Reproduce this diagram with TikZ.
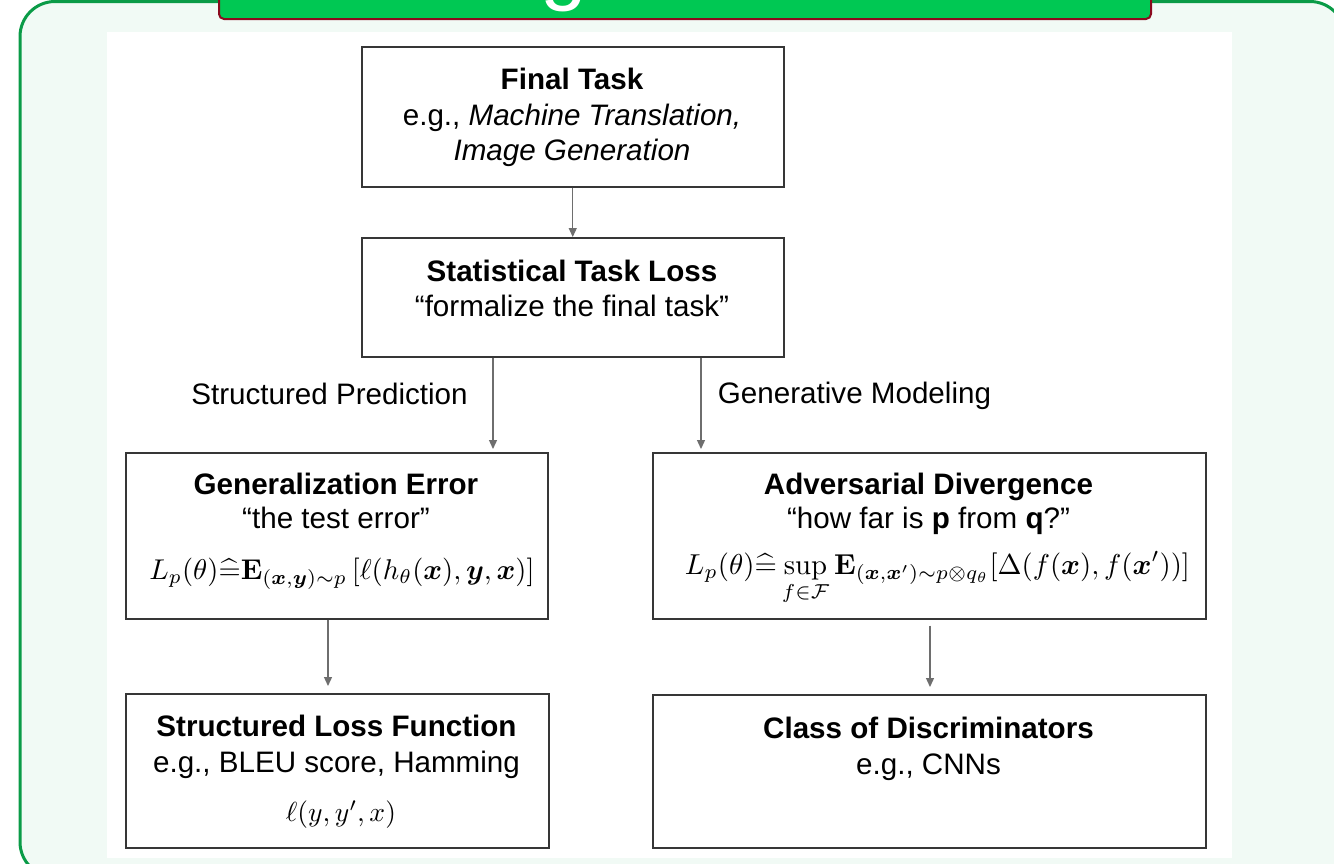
\documentclass[tikz,border=0pt]{standalone}
\usepackage{amsmath,amssymb}
\usepackage[no-math]{fontspec}
\setmainfont{Liberation Sans}
\usetikzlibrary{arrows.meta}
\definecolor{framegreen}{HTML}{0A9B47}
\definecolor{mint}{HTML}{F1FAF5}
\definecolor{bargreen}{HTML}{00C853}
\definecolor{baredge}{HTML}{8B0A1E}
\definecolor{boxgray}{HTML}{363636}
\definecolor{arrowgray}{HTML}{6E6E6E}
\begin{document}
\begin{tikzpicture}[x=1pt,y=-1pt,
  box/.style={draw=boxgray, line width=1.5pt, fill=white, anchor=north west, inner sep=0pt},
  ttl/.style={font=\fontsize{29.6}{35}\selectfont\bfseries, anchor=base, inner sep=0pt},
  txt/.style={font=\fontsize{29.6}{35}\selectfont, anchor=base, inner sep=0pt},
  mth/.style={anchor=base, inner sep=0pt},
  flow/.style={draw=arrowgray, line width=1.3pt, -{Triangle[length=9pt,width=8pt]}},
]
\useasboundingbox (0,0) rectangle (1334,863);
\begin{scope}
  \clip (0,0) rectangle (1334,863);
  % outer rounded frame
  \draw[framegreen, line width=3pt, fill=mint, rounded corners=35pt] (20,1.5) rectangle (1345,877);
  % title bar
  \draw[baredge, line width=2pt, fill=bargreen, rounded corners=5pt] (219,-30) rectangle (1151,19);
  \node[font=\fontsize{84}{84}\selectfont, text=white, anchor=base, inner sep=0pt] (glyph) at (564,-6) {g};
  % white panel
  \fill[white] (107,32) rectangle (1232,858);
\end{scope}

% boxes
\node[box, minimum width=422pt, minimum height=140pt] (task)  at (361,46)  {};
\node[box, minimum width=422pt, minimum height=119pt] (stats) at (361,237) {};
\node[box, minimum width=422pt, minimum height=166pt] (gen)   at (125,452) {};
\node[box, minimum width=553pt, minimum height=166pt] (adv)   at (652,452) {};
\node[box, minimum width=423pt, minimum height=154pt] (slf)   at (125,693) {};
\node[box, minimum width=553pt, minimum height=153pt] (cod)   at (652,694) {};

% box contents
\node[ttl] (taskA) at (572,89)  {Final Task};
\node[txt] (taskB) at (572,125) {e.g., \textit{Machine Translation,}};
\node[txt] (taskC) at (572,160) {\textit{Image Generation}};

\node[ttl] (statsA) at (572,281) {Statistical Task Loss};
\node[txt] (statsB) at (572,316) {“formalize the final task”};

\node[ttl] (genA) at (336,494) {Generalization Error};
\node[txt] (genB) at (336,528) {“the test error”};
\node[mth] (genC) at (342,579) {\resizebox{385pt}{!}{$L_p(\theta){\widehat{=}}\mathbf{E}_{(\boldsymbol{x},\boldsymbol{y})\sim p}\left[\ell(h_\theta(\boldsymbol{x}),\boldsymbol{y},\boldsymbol{x})\right]$}};

\node[ttl] (advA) at (928.5,494) {Adversarial Divergence};
\node[txt] (advB) at (928.5,528) {“how far is \textbf{p} from \textbf{q}?”};
\node[mth] (advC) at (937.5,574) {\resizebox{505pt}{!}{$\displaystyle L_p(\theta){\widehat{=}}\sup_{f\in\mathcal{F}}\mathbf{E}_{(\boldsymbol{x},\boldsymbol{x}')\sim p\otimes q_\theta}[\Delta(f(\boldsymbol{x}),f(\boldsymbol{x}'))]$}};

\node[ttl] (slfA) at (336.5,736) {Structured Loss Function};
\node[txt] (slfB) at (336.5,772) {e.g., BLEU score, Hamming};
\node[mth] (slfC) at (341,821) {\resizebox{110pt}{!}{$\ell(y,y',x)$}};

\node[ttl] (codA) at (928.5,738) {Class of Discriminators};
\node[txt] (codB) at (928.5,774) {e.g., CNNs};

% branch labels
\node[txt] (lblSP) at (329.5,404) {Structured Prediction};
\node[txt] (lblGM) at (854.5,403) {Generative Modeling};

% connectors
\coordinate (xsp) at (493,0);
\coordinate (xgm) at (701,0);
\coordinate (xl)  at (328,0);
\coordinate (xr)  at (930,0);
\draw[flow] (task.south) -- (stats.north);
\draw[flow, shorten >=3pt] (stats.south -| xsp) -- (gen.north -| xsp);
\draw[flow, shorten >=3pt] (stats.south -| xgm) -- (adv.north -| xgm);
\draw[flow, shorten >=7pt] (gen.south -| xl) -- (slf.north -| xl);
\draw[flow, shorten <=6pt, shorten >=7pt] (adv.south -| xr) -- (cod.north -| xr);
\end{tikzpicture}
\end{document}
